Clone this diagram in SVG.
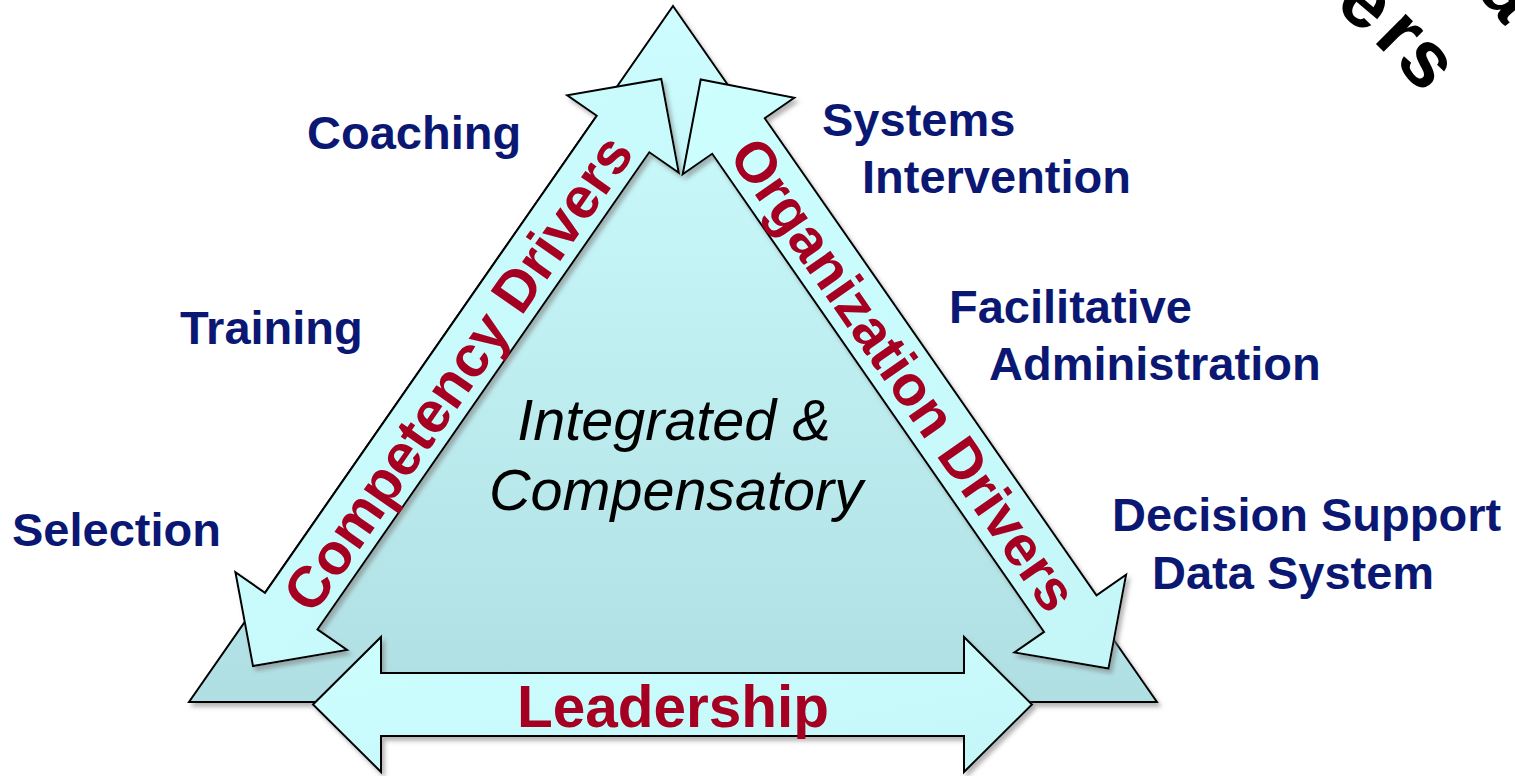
<svg xmlns="http://www.w3.org/2000/svg" width="1515" height="776" viewBox="0 0 1515 776">
  <defs>
    <linearGradient id="triFill" x1="0" y1="0" x2="0" y2="1">
      <stop offset="0" stop-color="#cefeff"/>
      <stop offset="1" stop-color="#b0dfe3"/>
    </linearGradient>
    <linearGradient id="arrowFill" x1="0" y1="0" x2="1" y2="1">
      <stop offset="0" stop-color="#ceffff"/>
      <stop offset="1" stop-color="#c4f6f8"/>
    </linearGradient>
    <filter id="shadow" x="-10%" y="-10%" width="120%" height="120%">
      <feDropShadow dx="3" dy="4" stdDeviation="2" flood-color="#7a7a7a" flood-opacity="0.55"/>
    </filter>
  </defs>
  <style>
    .shape { stroke: #000; stroke-width: 2; stroke-linejoin: miter; }
    .arrow { fill: url(#arrowFill); }
    .label { font-family: "Liberation Sans", Arial, sans-serif; font-weight: bold; font-size: 47px; fill: #0b1873; }
    .driver { font-family: "Liberation Sans", Arial, sans-serif; font-weight: bold; font-size: 58px; fill: #a50021; text-anchor: middle; }
    .center { font-family: "Liberation Sans", Arial, sans-serif; font-style: italic; font-size: 57.5px; fill: #000; text-anchor: middle; }
    .corner { font-family: "Liberation Sans", Arial, sans-serif; font-weight: bold; font-size: 80px; fill: #000; }
  </style>

  <g id="triangle" filter="url(#shadow)">
    <polygon class="shape" fill="url(#triFill)" points="673,6 1157,702 189,702"/>
  </g>

  <g id="connectors">
    <g id="arrow-competency" filter="url(#shadow)">
      <polygon class="shape arrow" points="253.0,666.1 235.4,572.3 265.0,592.8 596.7,115.7 567.2,95.2 661.3,79.0 678.8,172.8 649.3,152.3 317.5,629.4 347.1,649.9"/>
    </g>
    <g id="arrow-organization" filter="url(#shadow)">
      <polygon class="shape arrow" points="1108.5,668.6 1126.1,574.8 1096.5,595.3 764.8,118.2 794.3,97.7 700.7,79.5 682.7,174.3 712.2,153.8 1044.0,631.9 1014.4,652.4"/>
    </g>
    <g id="arrow-leadership" filter="url(#shadow)">
      <polygon class="shape arrow" points="313,704.5 381,637 381,673 964,673 964,637 1032,704.5 964,772 964,736 381,736 381,772"/>
    </g>
  </g>

  <g id="driver-labels">
    <text class="driver" transform="translate(474.3,384.5) rotate(-55.18)" x="0" y="0">Competency Drivers</text>
    <text class="driver" transform="translate(887.6,385.6) rotate(55.18)" x="0" y="0" style="font-size:57px">Organization Drivers</text>
    <text class="driver" x="673" y="727" style="font-size:58.5px">Leadership</text>
  </g>

  <g id="center-label">
    <text class="center" x="674" y="440">Integrated &amp;</text>
    <text class="center" x="676" y="510">Compensatory</text>
  </g>

  <g id="competency-items">
    <text class="label" x="307" y="149">Coaching</text>
    <text class="label" x="180" y="344">Training</text>
    <text class="label" x="12" y="546">Selection</text>
  </g>

  <g id="organization-items">
    <text class="label" x="822" y="136">Systems</text>
    <text class="label" x="862" y="193">Intervention</text>
    <text class="label" x="949" y="323">Facilitative</text>
    <text class="label" x="989" y="380">Administration</text>
    <text class="label" x="1112" y="531">Decision Support</text>
    <text class="label" x="1152" y="589">Data System</text>
  </g>

  <g id="corner-text">
    <text class="corner" transform="translate(1333,7) rotate(40)">e</text>
    <text class="corner" transform="translate(1372,40) rotate(45)">r</text>
    <text class="corner" transform="translate(1394,61) rotate(50)">s</text>
    <text class="corner" transform="translate(1476,-8) rotate(50)">a</text>
  </g>
</svg>
